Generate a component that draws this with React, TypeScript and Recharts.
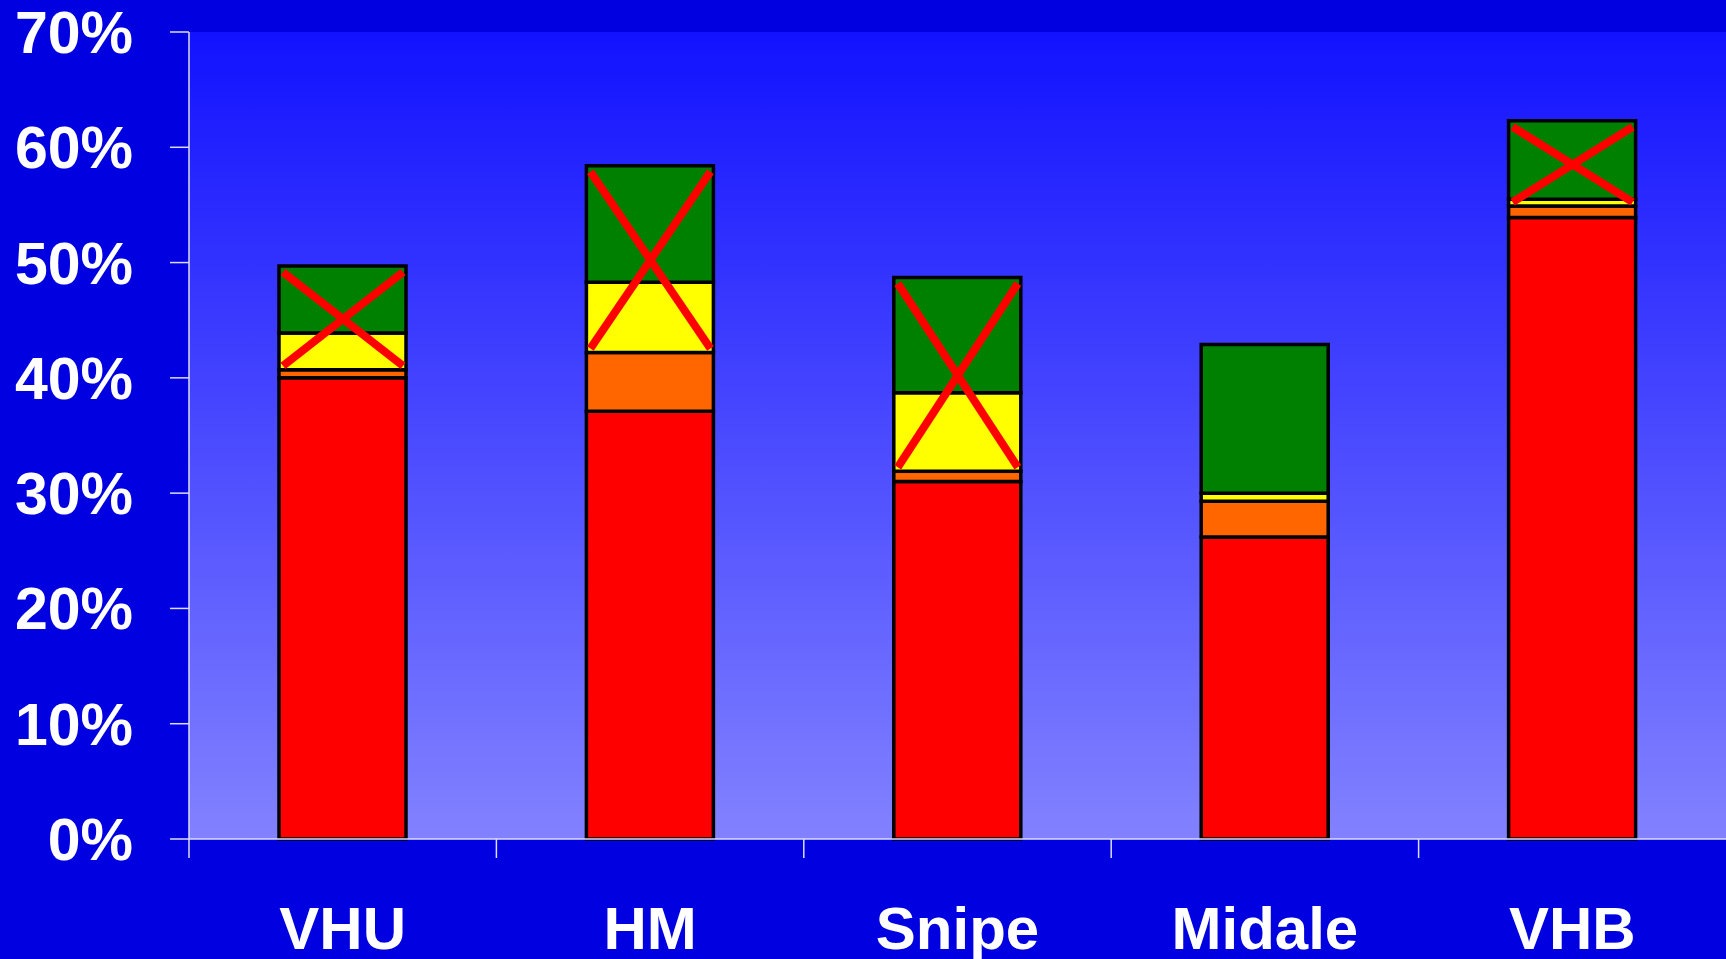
import { BarChart, Bar, XAxis, YAxis, CartesianGrid, Rectangle } from "recharts";

// values, in percent
const categories = ["VHU", "HM", "Snipe", "Midale", "VHB"];
const redValues = [40.0, 37.1, 31.0, 26.2, 53.9];
const orangeValues = [0.7, 5.1, 0.9, 3.1, 1.0];
const yellowValues = [3.2, 6.1, 6.8, 0.7, 0.6];
const greenValues = [5.8, 10.1, 10.0, 12.9, 6.8];
const crossedOut = [true, true, true, false, true];
const yTicks = [0, 10, 20, 30, 40, 50, 60, 70];

const data = categories.map((name, i) => ({
    name,
    red: redValues[i],
    orange: orangeValues[i],
    yellow: yellowValues[i],
    green: greenValues[i],
    crossed: crossedOut[i],
}));

const fontFamily = "'Liberation Sans', Arial, sans-serif";
const axisColor = "#dcdcff";
const outline = 3.5;

// top segment; draws the red X over green + yellow when crossed
function CrossedBar(props: any) {
    const { x, y, width, height, payload, fill } = props;
    const yellowPx = payload.green > 0 ? (height * payload.yellow) / payload.green : 0;
    const bottom = y + height + yellowPx;
    return (
        <g>
            <Rectangle x={x} y={y} width={width} height={height} fill={fill} stroke="#000" strokeWidth={outline} />
            {payload.crossed && (
                <g>
                    <line x1={x + 4} y1={y + 6} x2={x + width - 3} y2={bottom - 4} stroke="#ff0000" strokeWidth={8} />
                    <line x1={x + 4} y1={bottom - 4} x2={x + width - 3} y2={y + 6} stroke="#ff0000" strokeWidth={8} />
                </g>
            )}
        </g>
    );
}

// category label at the centre, tick mark at the left edge of each category
function CategoryTick(props: any) {
    const { x, y, payload, width, visibleTicksCount } = props;
    const step = width / visibleTicksCount;
    const edge = x - step / 2;
    return (
        <g>
            <line x1={edge} y1={y} x2={edge} y2={y + 19} stroke={axisColor} strokeWidth={1.5} />
            <text
                x={x}
                y={y + 110}
                textAnchor="middle"
                fill="#ffffff"
                fontSize={60}
                fontWeight="bold"
                fontFamily={fontFamily}
            >
                {payload.value}
            </text>
        </g>
    );
}

export default function App() {
    return (
        <div style={{ position: "absolute", left: 0, top: 0, width: 1726, height: 959, background: "#0000e0" }}>
            <BarChart width={1726} height={959} data={data} margin={{ top: 32, right: 0, bottom: 0, left: 0 }}>
                <defs>
                    <linearGradient id="plotBg" x1="0" y1="0" x2="0" y2="1">
                        <stop offset="0%" stopColor="#1212ff" />
                        <stop offset="100%" stopColor="#8282ff" />
                    </linearGradient>
                </defs>
                <CartesianGrid fill="url(#plotBg)" stroke="none" horizontal={false} vertical={false} />
                <XAxis
                    dataKey="name"
                    height={120}
                    tickLine={false}
                    tickSize={0}
                    tickMargin={0}
                    interval={0}
                    tick={CategoryTick}
                    stroke={axisColor}
                    strokeWidth={1.5}
                />
                <YAxis
                    width={189}
                    domain={[0, 70]}
                    ticks={yTicks}
                    interval={0}
                    tickFormatter={(v) => `${v}%`}
                    tickSize={19}
                    tickMargin={37}
                    tick={{ fill: "#ffffff", fontSize: 59, fontWeight: "bold", fontFamily }}
                    stroke={axisColor}
                    strokeWidth={1.5}
                />
                <Bar dataKey="red" stackId="a" fill="#ff0000" stroke="#000" strokeWidth={outline} barSize={127} isAnimationActive={false} />
                <Bar dataKey="orange" stackId="a" fill="#ff6600" stroke="#000" strokeWidth={outline} barSize={127} isAnimationActive={false} />
                <Bar dataKey="yellow" stackId="a" fill="#ffff00" stroke="#000" strokeWidth={outline} barSize={127} isAnimationActive={false} />
                <Bar dataKey="green" stackId="a" fill="#008000" barSize={127} shape={CrossedBar} isAnimationActive={false} />
            </BarChart>
        </div>
    );
}
